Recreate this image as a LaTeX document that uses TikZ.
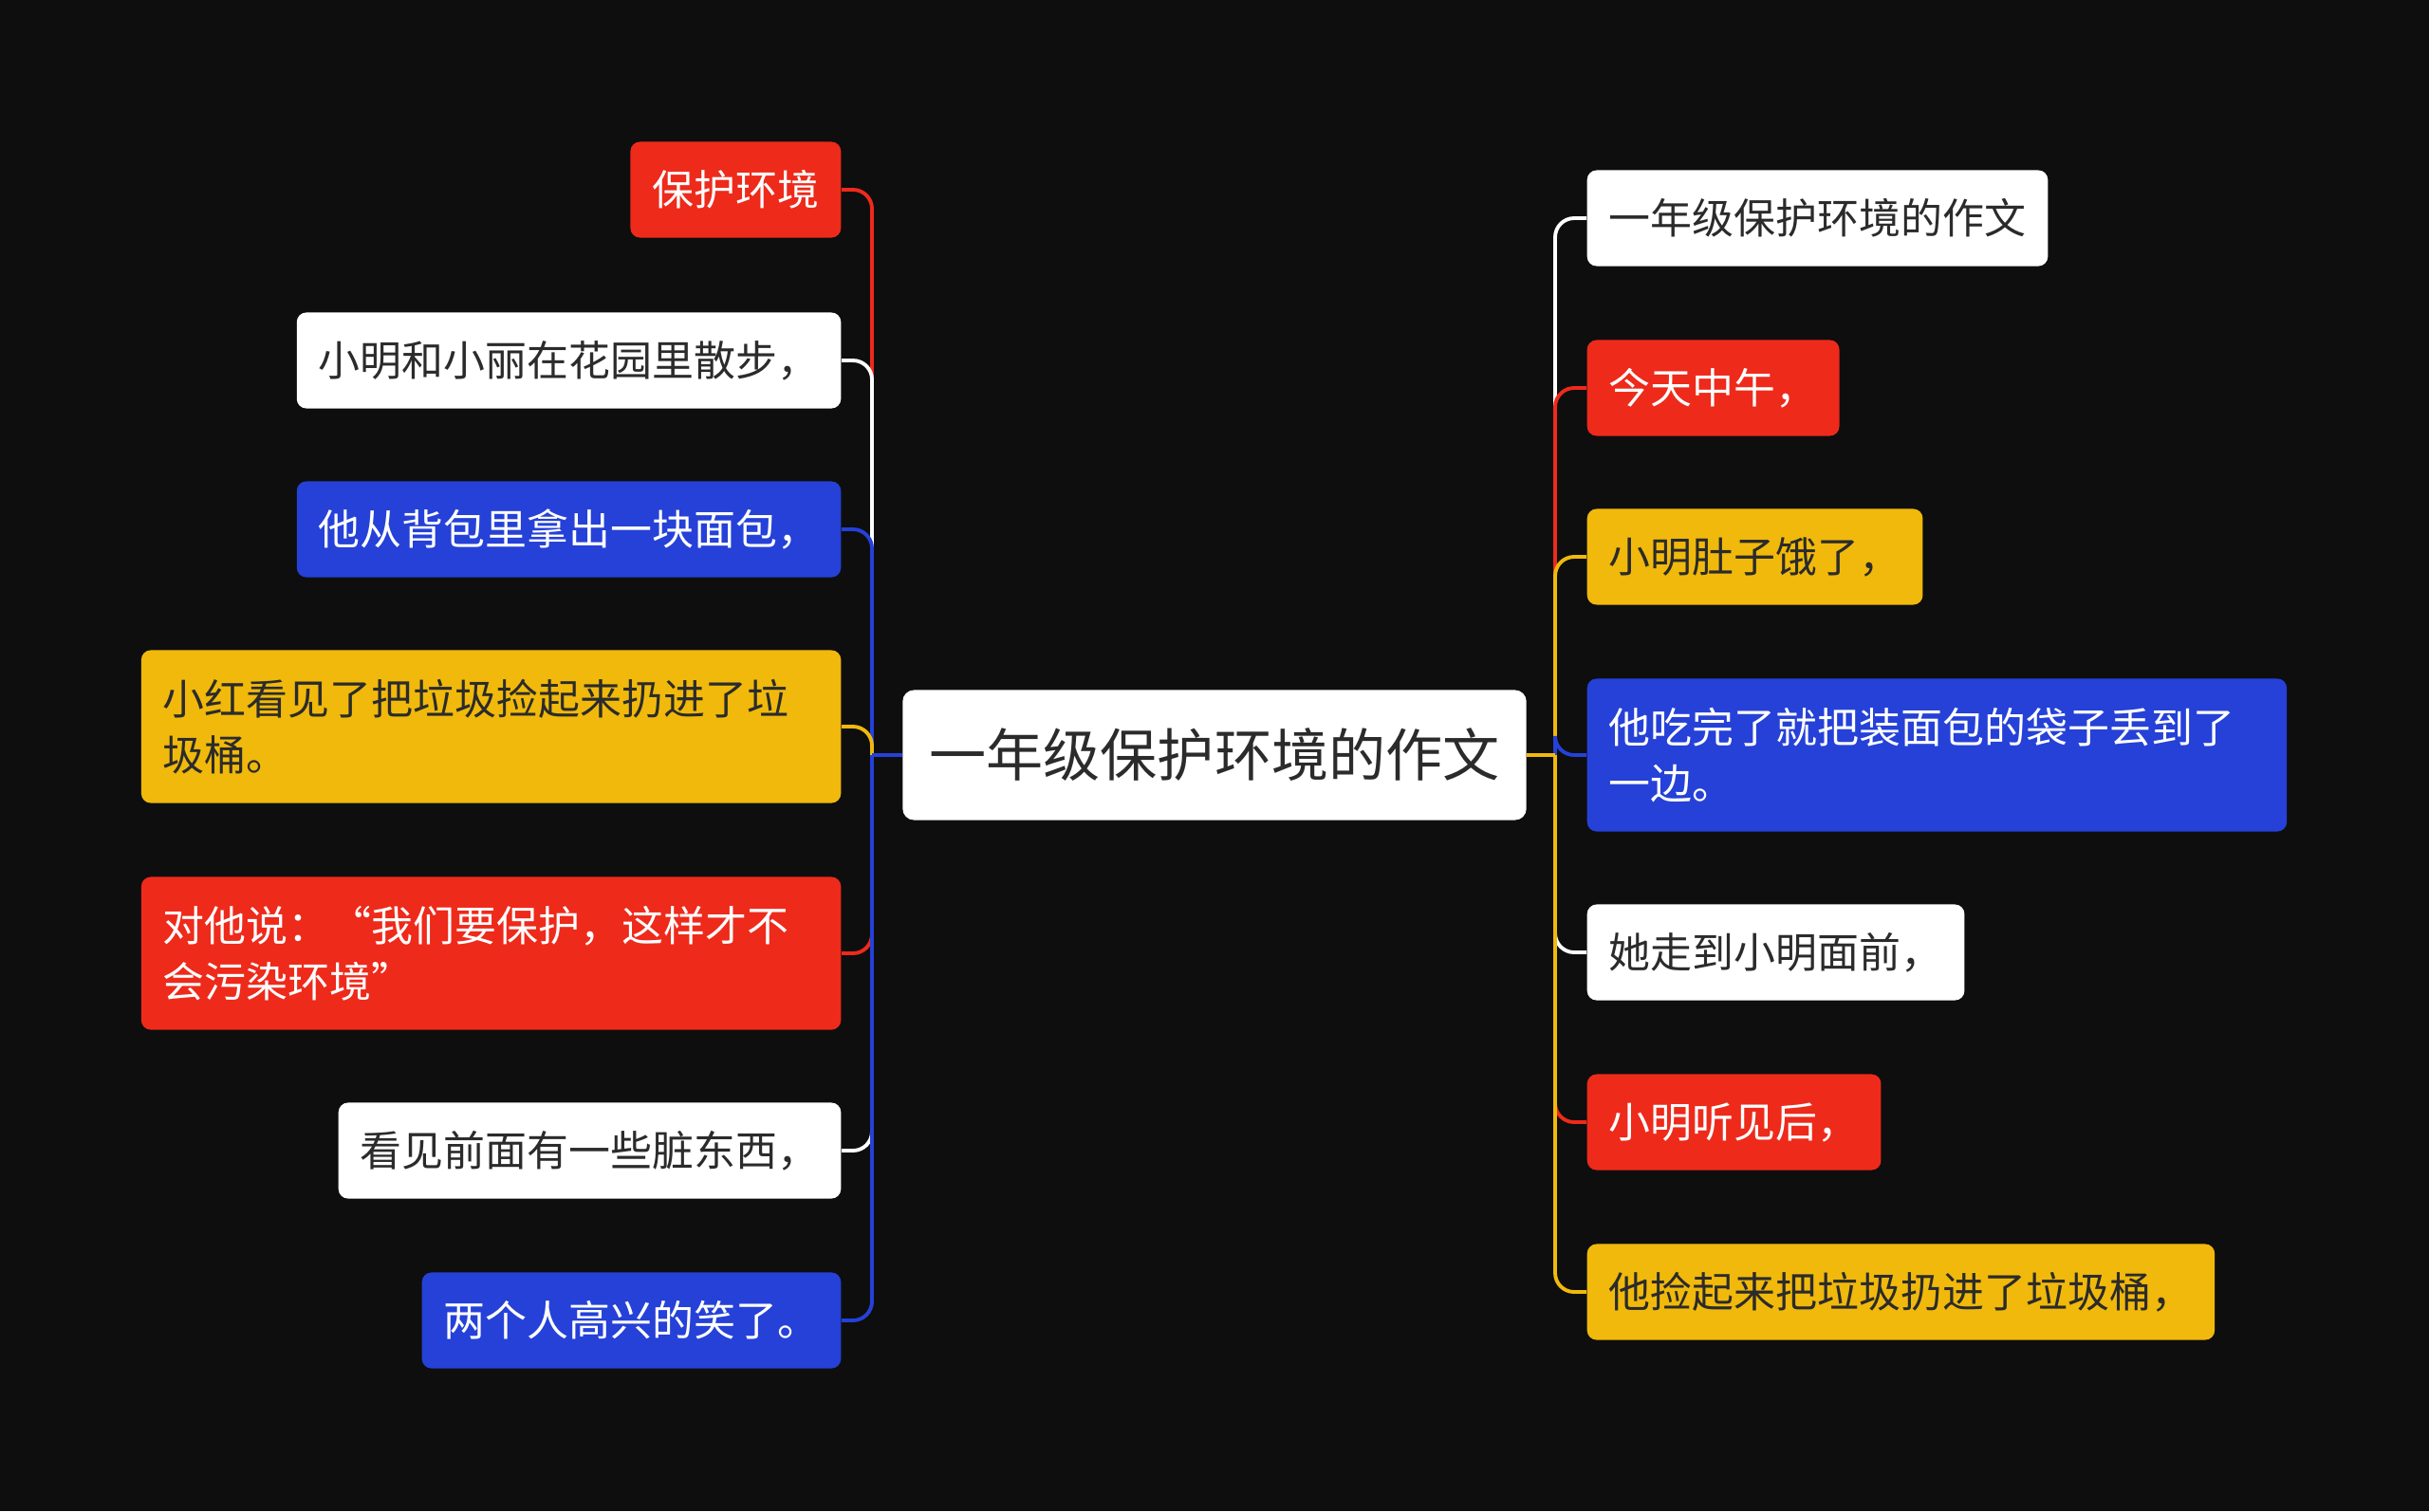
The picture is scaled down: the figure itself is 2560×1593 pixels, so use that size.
\documentclass[tikz,border=0pt]{standalone}
\usepackage{fontspec}
\setmainfont{Noto Sans CJK SC}
\usepackage{xcolor}
\usepackage{tikz}
\usetikzlibrary{shapes,arrows,positioning,calc}

\definecolor{bg}{HTML}{0E0E0E}
\definecolor{mred}{HTML}{EE2A1B}
\definecolor{myellow}{HTML}{F0B90C}
\definecolor{mblue}{HTML}{2541D8}
\definecolor{mtext}{HTML}{2B2B2B}

\begin{document}
\begin{tikzpicture}[x=0.01cm, y=-0.01cm]
    % Define styles
    \tikzstyle{leaf} = [rectangle, rounded corners=0.1cm, inner xsep=0.23cm, inner ysep=0pt, minimum height=1.01cm, font=\fontsize{12.5}{16.8}\selectfont]
    \tikzstyle{redleaf} = [leaf, fill=mred, text=white]
    \tikzstyle{blueleaf} = [leaf, fill=mblue, text=white]
    \tikzstyle{yellowleaf} = [leaf, fill=myellow, text=mtext]
    \tikzstyle{whiteleaf} = [leaf, fill=white, text=mtext]
    \tikzstyle{wide} = [text width=6.91cm, align=left, minimum height=1.61cm]
    \tikzstyle{root} = [rectangle, rounded corners=0.12cm, fill=white, text=mtext, inner xsep=0.28cm, minimum height=1.37cm, font=\fontsize{17.1}{20}\selectfont]
    \tikzstyle{link} = [line width=1.1pt, rounded corners=0.2cm]

    % Background
    \fill[bg] (0,0) rectangle (2560,1593);
    \useasboundingbox (0,0) rectangle (2560,1593);

    % Central topic
    \node[root] (essay) at (1280,796) {一年级保护环境的作文};
    \coordinate (ljoin) at (919,796);
    \coordinate (rjoin) at (1639,796);

    % Left branches
    \node[redleaf, anchor=east] (protect) at (887,200) {保护环境};
    \node[whiteleaf, anchor=east] (walk) at (887,380) {小明和小丽在花园里散步，};
    \node[blueleaf, anchor=east] (bread) at (887,558) {他从背包里拿出一块面包，};
    \node[yellowleaf, wide, anchor=east] (pickup) at (887,766) {小红看见了把垃圾捡起来扔进了垃\\圾桶。};
    \node[redleaf, wide, anchor=east] (said) at (887,1005) {对他说：“我们要保护，这样才不\\会污染环境”};
    \node[whiteleaf, anchor=east] (dirty) at (887,1213) {看见前面有一些脏东西，};
    \node[blueleaf, anchor=east] (laugh) at (887,1392) {两个人高兴的笑了。};

    % Right branches
    \node[whiteleaf, anchor=west] (title) at (1672,230) {一年级保护环境的作文};
    \node[redleaf, anchor=west] (noon) at (1672,409) {今天中午，};
    \node[yellowleaf, anchor=west] (hungry) at (1672,587) {小明肚子饿了，};
    \node[blueleaf, wide, anchor=west] (ate) at (1672,796) {他吃完了就把装面包的袋子丢到了\\一边。};
    \node[whiteleaf, anchor=west] (came) at (1672,1004) {她走到小明面前，};
    \node[redleaf, anchor=west] (heard) at (1672,1183) {小明听见后，};
    \node[yellowleaf, anchor=west] (threw) at (1672,1362) {他捡起来把垃圾扔进了垃圾桶，};

    % Left links
    \draw[link, mred] (protect.east) -| (ljoin);
    \draw[link, white] (walk.east) -| (ljoin);
    \draw[link, mblue] (bread.east) -| (ljoin);
    \draw[link, myellow] (pickup.east) -| (ljoin);
    \draw[link, mred] (said.east) -| (ljoin);
    \draw[link, white] (dirty.east) -| (ljoin);
    \draw[link, mblue] (laugh.east) -| (ljoin);
    \draw[link, mblue] (essay.west) -- (ljoin);

    % Right links
    \draw[link, white] (title.west) -| (rjoin);
    \draw[link, mred] (noon.west) -| (rjoin);
    \draw[link, myellow] (hungry.west) -| (rjoin);
    \draw[link, mblue] (ate.west) -| (rjoin);
    \draw[link, white] (came.west) -| (rjoin);
    \draw[link, mred] (heard.west) -| (rjoin);
    \draw[link, myellow] (threw.west) -| (rjoin);
    \draw[link, myellow] (essay.east) -- (rjoin);

\end{tikzpicture}
\end{document}
